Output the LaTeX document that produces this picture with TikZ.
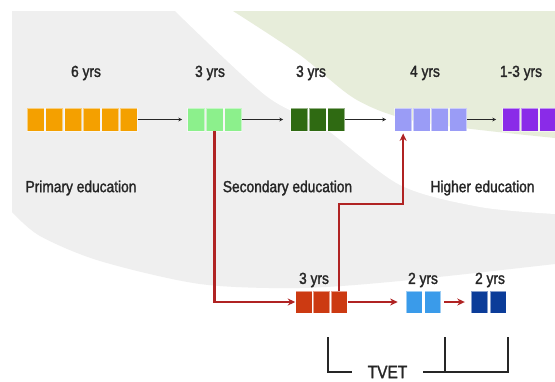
\documentclass[tikz,border=0pt]{standalone}
\usepackage{fontspec}
\setmainfont{Liberation Sans}
\newfontfamily\labelfont{Liberation Sans}[FakeStretch=0.86, FakeBold=1.6]
\usetikzlibrary{arrows.meta}

\definecolor{bggray}{HTML}{EFEFEF}
\definecolor{bggreen}{HTML}{E7EDDA}
\definecolor{textgray}{HTML}{262626}
\definecolor{cOrange}{HTML}{F4A000}
\definecolor{cLightGreen}{HTML}{8CF08C}
\definecolor{cDarkGreen}{HTML}{2F6A12}
\definecolor{cLavender}{HTML}{9A9CF6}
\definecolor{cPurple}{HTML}{8A2BE8}
\definecolor{cRust}{HTML}{CC3A12}
\definecolor{cSky}{HTML}{3A9BEA}
\definecolor{cNavy}{HTML}{0B3C99}
\definecolor{routered}{HTML}{B02323}

% one row of year squares: name prefix, left x, centre y, count, pitch, style
\newcommand\segrow[6]{%
  \foreach \k in {1,...,#4}
    \node[#6] (#1-\k) at ({#2+(\k-0.5)*#5}, #3) {};}

\begin{document}
\begin{tikzpicture}[x=1pt, y=-1pt,
  sq/.style={rectangle, inner sep=0pt, minimum width=17pt, minimum height=23pt,
             draw=white, draw opacity=0.5, line width=0.9pt},
  sqlow/.style={sq, minimum width=16.3pt, minimum height=22pt},
  flow/.style={draw=black!85, line width=0.9pt,
               -{Stealth[length=4pt,width=3.8pt]}},
  route/.style={draw=routered, line width=2.4pt, line join=miter},
  routetip/.style={route, -{Stealth[length=7.5pt,width=7pt]}},
  label/.style={font=\labelfont\fontsize{16}{18}\selectfont, text=textgray, inner sep=0pt},
  bracket/.style={draw=textgray, line width=1.3pt}]

\useasboundingbox (0,0) rectangle (555,381);

% background: grey panel, white swoosh, green corner
\fill[white] (0,0) rectangle (555,381);
\fill[bggray] (12,11) -- (555,11) -- (555,264)
  -- plot[smooth] coordinates {(555,264) (400,281) (300,288) (200,284) (100,261) (40,236) (12,212)}
  -- cycle;
\fill[white] plot[smooth] coordinates {(175,11) (265,95) (323,127) (400,185) (480,207) (555,214)}
  -- (555,11) -- cycle;
\fill[bggreen] plot[smooth] coordinates {(233,11) (300,55) (357,100) (420,122) (555,138)}
  -- (555,11) -- cycle;

% main track
\segrow{pri}{26.5}{119.5}{6}{18.6}{sq, fill=cOrange}
\segrow{lsec}{187}{119.5}{3}{18.4}{sq, fill=cLightGreen}
\segrow{usec}{290}{119.5}{3}{18.4}{sq, fill=cDarkGreen}
\segrow{hig}{394}{119.5}{4}{18.3}{sq, fill=cLavender}
\segrow{post}{502}{119.5}{3}{18.4}{sq, fill=cPurple}

% vocational track
\segrow{tv}{295}{302}{3}{17.7}{sqlow, fill=cRust}
\segrow{tva}{405}{302}{2}{18.5}{sqlow, fill=cSky}
\segrow{tvb}{470}{302}{2}{18.8}{sqlow, fill=cNavy}

% durations
\node[label] (d1) at (86,73) {6 yrs};
\node[label] (d2) at (210,73) {3 yrs};
\node[label] (d3) at (311,73) {3 yrs};
\node[label] (d4) at (425,73) {4 yrs};
\node[label] (d5) at (521,73) {1-3 yrs};
\node[label] (d6) at (314,280) {3 yrs};
\node[label] (d7) at (423,280) {2 yrs};
\node[label] (d8) at (490,280) {2 yrs};

% stages
\node[label] (s1) at (81,188) {Primary education};
\node[label] (s2) at (287.5,188) {Secondary education};
\node[label] (s3) at (482.5,188) {Higher education};

% main track arrows
\draw[flow, shorten >=5pt] (pri-6.east) -- (lsec-1.west);
\draw[flow, shorten >=7pt] (lsec-3.east) -- (usec-1.west);
\draw[flow, shorten >=8pt] (usec-3.east) -- (hig-1.west);
\draw[flow, shorten >=6pt] (hig-4.east) -- (post-1.west);

% vocational routes
\coordinate (midrow) at (0,204);
\draw[routetip] (lsec-2.south) |- (tv-1.west);
\draw[routetip, shorten >=2pt] (tv-3.north) -- (tv-3.north |- midrow) -| (hig-1.south);
\draw[routetip, shorten >=8pt] (tv-3.east) -- (tva-1.west);
\draw[routetip, shorten <=3pt, shorten >=6pt] (tva-2.east) -- (tvb-1.west);

% TVET bracket
\node[font=\labelfont\fontsize{18}{20}\selectfont, text=textgray, inner sep=0pt,
      minimum width=71pt] (tvet) at (387.5,372) {TVET};
\coordinate (bl) at (328,337);
\coordinate (bm) at (445,337);
\coordinate (br) at (508,337);
\draw[bracket] (bl) |- (tvet.west);
\draw[bracket] (tvet.east) -| (br);
\draw[bracket] (bm) -- (bm |- tvet.east);
\end{tikzpicture}
\end{document}
